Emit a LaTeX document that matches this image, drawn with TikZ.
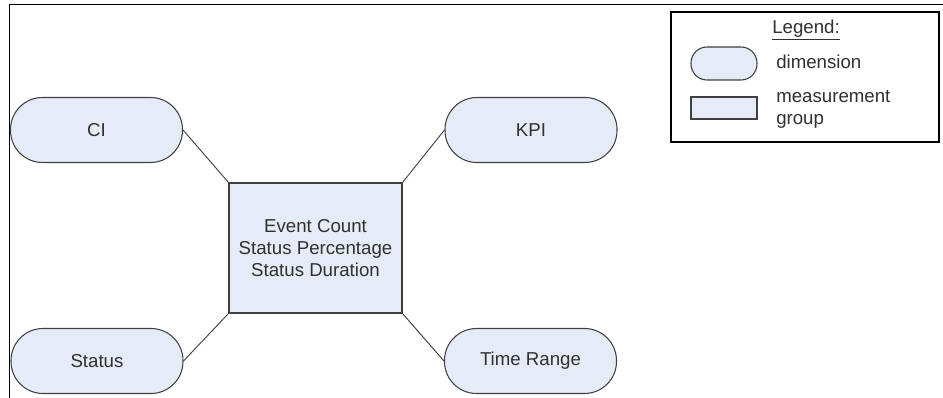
\documentclass[tikz,border=0pt]{standalone}
\usepackage{fontspec}
\setmainfont{Liberation Sans}
\definecolor{fillb}{HTML}{E6ECF7}
\definecolor{edge}{HTML}{404040}
\definecolor{txt}{HTML}{303030}
\begin{document}
\begin{tikzpicture}[x=0.75pt,y=-0.75pt,
  dim/.style={draw=edge, fill=fillb, line width=0.8pt, rounded corners=24pt, minimum width=129pt, minimum height=48.75pt, inner sep=0pt, text=txt, font=\fontsize{14}{16.5}\selectfont},
  grp/.style={draw=edge, fill=fillb, line width=0.8pt, minimum width=129.75pt, minimum height=97.5pt, inner sep=0pt, align=center, text=txt, font=\fontsize{14}{16.5}\selectfont},
  conn/.style={draw=edge, line width=0.7pt},
  lbl/.style={text=txt, font=\fontsize{14}{16.5}\selectfont, inner sep=0pt, anchor=base west, align=left}]
\useasboundingbox (0,0) rectangle (943,398);
\draw[black, line width=1.1pt] (9.5,398) -- (9.5,4.5) -- (943,4.5);
\node[dim] (ci) at (96.5,130) {CI};
\node[dim] (status) at (97,361) {Status};
\node[dim] (kpi) at (531,130) {KPI};
\node[dim] (time) at (530.5,361) {Time Range};
\node[grp] (mg) at (315.5,248) {Event Count\\Status Percentage\\Status Duration};
\draw[conn] (ci.east) -- (mg.north west);
\draw[conn] (status.east) -- (mg.south west);
\draw[conn] (kpi.west) -- (mg.north east);
\draw[conn] (time.west) -- (mg.south east);
% legend
\node[draw=black, line width=0.8pt, minimum width=201pt, minimum height=97.5pt, inner sep=0pt] (legend) at (805,77) {};
\node[text=txt, font=\fontsize{14}{16.5}\selectfont, inner sep=0pt, anchor=base] (ltitle) at (806,33.5) {\underline{Legend:}};
\node[draw=edge, fill=fillb, line width=0.8pt, rounded corners=12pt, minimum width=49.5pt, minimum height=24.75pt, inner sep=0pt] (ldim) at (724,63.5) {};
\node[lbl] (ldimt) at (776,68.5) {dimension};
\node[draw=edge, fill=fillb, line width=0.8pt, minimum width=49.5pt, minimum height=16.5pt, inner sep=0pt] (lgrp) at (724,108) {};
\node[lbl] (lgrpt) at (776,125) {measurement\\group};
\end{tikzpicture}
\end{document}
